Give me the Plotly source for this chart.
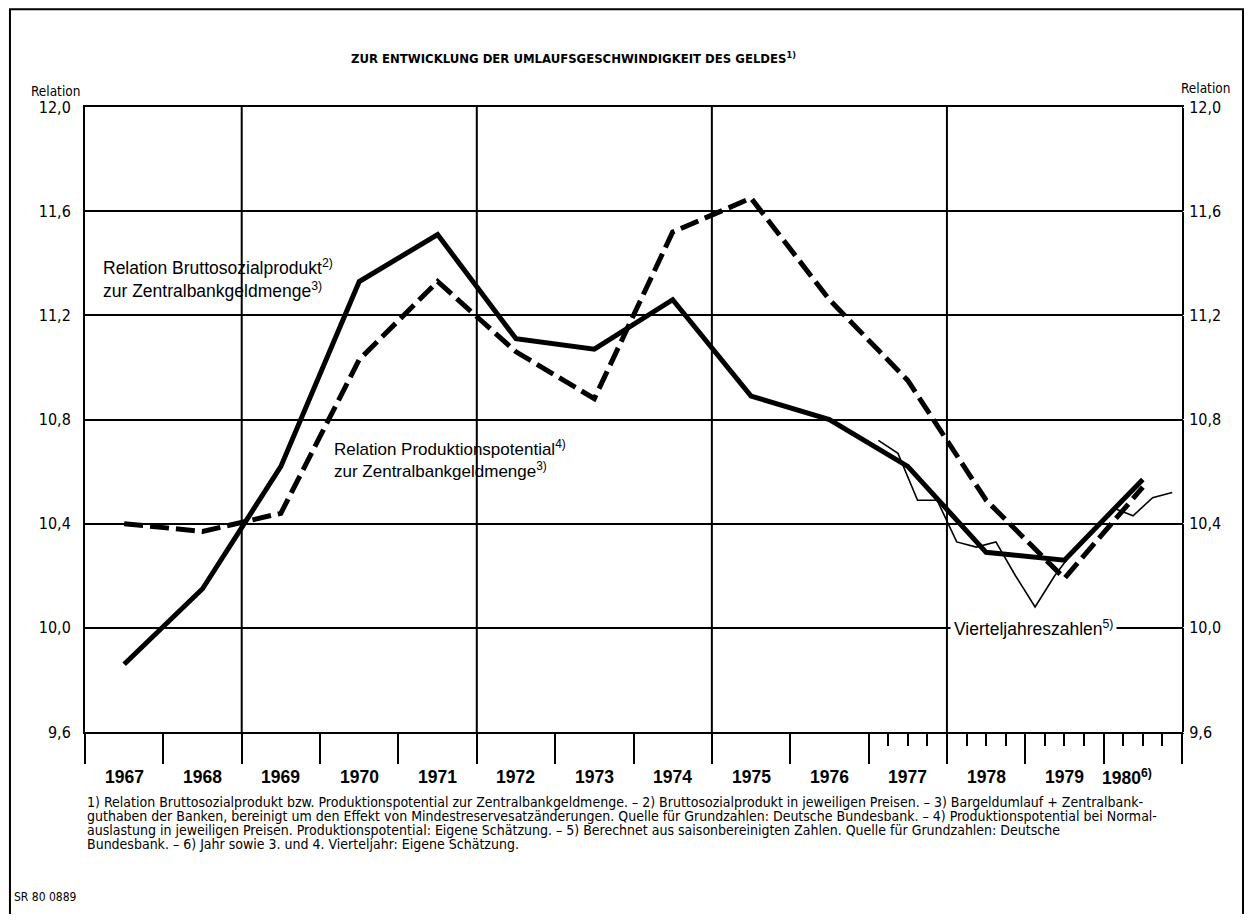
import plotly.graph_objects as go

# ---------------- data ----------------
years = [1967, 1968, 1969, 1970, 1971, 1972, 1973, 1974, 1975, 1976, 1977, 1978, 1979, 1980]
year_labels = ["1967", "1968", "1969", "1970", "1971", "1972", "1973", "1974", "1975",
               "1976", "1977", "1978", "1979", "1980<sup>6)</sup>"]
# Relation Bruttosozialprodukt zur Zentralbankgeldmenge (solid)
bsp_ratio = [9.86, 10.15, 10.62, 11.33, 11.51, 11.11, 11.07, 11.26, 10.89, 10.80, 10.62, 10.29, 10.26, 10.57]
# Relation Produktionspotential zur Zentralbankgeldmenge (dashed)
pp_ratio = [10.40, 10.37, 10.44, 11.03, 11.33, 11.06, 10.88, 11.52, 11.65, 11.26, 10.95, 10.49, 10.19, 10.54]
# Vierteljahreszahlen (thin)
q_years = [1977, 1977, 1977, 1977, 1978, 1978, 1978, 1978, 1979, 1979, 1979, 1979, 1980, 1980, 1980, 1980]
q_nums = [1, 2, 3, 4, 1, 2, 3, 4, 1, 2, 3, 4, 1, 2, 3, 4]
q_ratio = [10.72, 10.67, 10.49, 10.49, 10.33, 10.31, 10.33, 10.20, 10.08, 10.20, 10.30, 10.38,
           10.46, 10.43, 10.50, 10.52]

y_ticks = [9.6, 10.0, 10.4, 10.8, 11.2, 11.6, 12.0]
y_ticktext = ["9,6", "10,0", "10,4", "10,8", "11,2", "11,6", "12,0"]
grid_years = [1969, 1972, 1975, 1978]
quarter_tick_years = [1977, 1978, 1979, 1980]

title_text = "ZUR ENTWICKLUNG DER UMLAUFSGESCHWINDIGKEIT DES GELDES<sup>1)</sup>"
footnote_lines = [
    "1) Relation Bruttosozialprodukt bzw. Produktionspotential zur Zentralbankgeldmenge. – 2) Bruttosozialprodukt in jeweiligen Preisen. – 3) Bargeldumlauf + Zentralbank-",
    "guthaben der Banken, bereinigt um den Effekt von Mindestreservesatzänderungen. Quelle für Grundzahlen: Deutsche Bundesbank. – 4) Produktionspotential bei Normal-",
    "auslastung in jeweiligen Preisen. Produktionspotential: Eigene Schätzung. – 5) Berechnet aus saisonbereinigten Zahlen. Quelle für Grundzahlen: Deutsche",
    "Bundesbank. – 6) Jahr sowie 3. und 4. Vierteljahr: Eigene Schätzung.",
]

# ---------------- derived positions ----------------
annual_x = [y + 0.5 for y in years]
quarter_x = [y + (q - 0.5) / 4 for y, q in zip(q_years, q_nums)]
minor_vals = [y + k / 4 for y in quarter_tick_years for k in (1, 2, 3)]

FONT = "Liberation Sans, Arial, sans-serif"
COND = "DejaVu Sans Condensed, Liberation Sans, sans-serif"

fig = go.Figure()
fig.add_trace(go.Scatter(x=quarter_x, y=q_ratio, mode="lines",
                         line=dict(color="black", width=1.6), hoverinfo="skip"))
fig.add_trace(go.Scatter(x=annual_x, y=pp_ratio, mode="lines",
                         line=dict(color="black", width=5, dash="19px,7px"), hoverinfo="skip"))
fig.add_trace(go.Scatter(x=annual_x, y=bsp_ratio, mode="lines",
                         line=dict(color="black", width=5), hoverinfo="skip"))
# invisible trace to activate right-hand axis
fig.add_trace(go.Scatter(x=annual_x, y=bsp_ratio, yaxis="y2", mode="lines",
                         line=dict(color="rgba(0,0,0,0)", width=0), hoverinfo="skip"))

for gy in grid_years:
    fig.add_shape(type="line", xref="x", yref="y", x0=gy, x1=gy, y0=y_ticks[0], y1=y_ticks[-1],
                  line=dict(color="black", width=2), layer="below")

# outer frame of the page
fig.add_shape(type="rect", xref="paper", yref="paper", x0=-0.0684, x1=1.0556, y0=-0.33, y1=1.1565,
              line=dict(color="black", width=2), layer="below")

ann = []
for yr, lab in zip(annual_x, year_labels):
    ann.append(dict(x=yr, y=-0.072, xref="x", yref="paper", text="<b>" + lab + "</b>",
                    showarrow=False, xanchor="center", yanchor="middle",
                    xshift=(-16 if "sup" in lab else 0),
                    font=dict(family=FONT, size=17.5, color="black")))
ann.append(dict(x=0.445, y=1.078, xref="paper", yref="paper", text="<b>" + title_text + "</b>",
                showarrow=False, xanchor="center", yanchor="middle",
                font=dict(family=COND, size=13, color="black")))
ann.append(dict(x=-0.051, y=1.026, xref="paper", yref="paper", text="Relation",
                showarrow=False, xanchor="left", yanchor="middle",
                font=dict(family=COND, size=13.5, color="black")))
ann.append(dict(x=0.997, y=1.03, xref="paper", yref="paper", text="Relation",
                showarrow=False, xanchor="left", yanchor="middle",
                font=dict(family=COND, size=13.5, color="black")))
ann.append(dict(x=1967.2, y=11.34, xref="x", yref="y", align="left",
                text="Relation Bruttosozialprodukt<sup>2)</sup><br>zur Zentralbankgeldmenge<sup>3)</sup>",
                showarrow=False, xanchor="left", yanchor="middle",
                font=dict(family=FONT, size=17.5, color="black")))
ann.append(dict(x=1970.15, y=10.65, xref="x", yref="y", align="left",
                text="Relation Produktionspotential<sup>4)</sup><br>zur Zentralbankgeldmenge<sup>3)</sup>",
                showarrow=False, xanchor="left", yanchor="middle",
                font=dict(family=FONT, size=17, color="black")))
ann.append(dict(x=1978.04, y=10.0, xref="x", yref="y",
                text="Vierteljahreszahlen<sup>5)</sup>", bgcolor="white", borderpad=3,
                showarrow=False, xanchor="left", yanchor="middle",
                font=dict(family=FONT, size=17.5, color="black")))
for i, line in enumerate(footnote_lines):
    ann.append(dict(x=0.0, y=-0.1125 - i * 0.0224, xref="paper", yref="paper", align="left",
                    text=line, showarrow=False, xanchor="left", yanchor="middle",
                    font=dict(family=COND, size=14, color="black")))
ann.append(dict(x=-0.0665, y=-0.264, xref="paper", yref="paper", text="SR 80 0889",
                showarrow=False, xanchor="left", yanchor="middle",
                font=dict(family=COND, size=12, color="black")))

axis_font = dict(family=COND, size=16, color="black")
fig.update_layout(
    width=1236, height=906,
    margin=dict(l=77, r=62, t=99, b=182, pad=0),
    paper_bgcolor="white", plot_bgcolor="white",
    showlegend=False,
    annotations=ann,
    xaxis=dict(range=[years[0], years[-1] + 1], tickmode="array", tickvals=list(range(years[0], years[-1] + 2)),
               ticks="outside", ticklen=30, tickwidth=2, tickcolor="black",
               showticklabels=False, showgrid=False, zeroline=False,
               showline=True, linecolor="black", linewidth=2, mirror=True,
               minor=dict(tickmode="array", tickvals=minor_vals, ticks="outside",
                          ticklen=12, tickwidth=2, tickcolor="black", showgrid=False)),
    yaxis=dict(range=[y_ticks[0], y_ticks[-1]], tickmode="array", tickvals=y_ticks, ticktext=y_ticktext,
               showgrid=True, gridcolor="black", gridwidth=1.6, zeroline=False,
               ticks="outside", ticklen=9, tickcolor="white",
               showline=True, linecolor="black", linewidth=2, mirror=True,
               tickfont=axis_font),
    yaxis2=dict(range=[y_ticks[0], y_ticks[-1]], tickmode="array", tickvals=y_ticks, ticktext=y_ticktext,
                overlaying="y", side="right", showgrid=False, zeroline=False,
                ticks="outside", ticklen=3, tickcolor="white", showline=False,
                tickfont=axis_font),
)

fig.write_html("out.html")
